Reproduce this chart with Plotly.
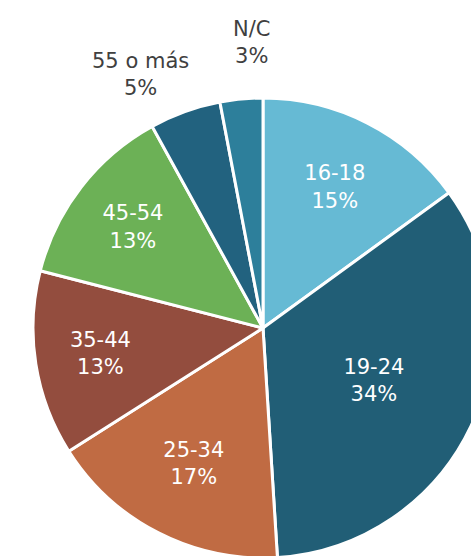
import plotly.graph_objects as go

categories = ["16-18", "19-24", "25-34", "35-44", "45-54", "55 o más", "N/C"]
values = [15, 34, 17, 13, 13, 5, 3]
colors = ["#66bad4", "#215e76", "#c06b43", "#934d3e", "#6cb156", "#22627f", "#2d7f9b"]
outside = ["55 o más", "N/C"]

W, H = 500, 560
cx, cy, r = 263, 328, 230

texts = [("" if c in outside else f"{c}<br>{v}%") for c, v in zip(categories, values)]

fig = go.Figure(go.Pie(
    labels=categories,
    values=values,
    sort=False,
    direction="clockwise",
    rotation=0,
    marker=dict(colors=colors, line=dict(color="white", width=3)),
    text=texts,
    textinfo="text",
    textposition="inside",
    insidetextorientation="horizontal",
    insidetextfont=dict(color="white", size=21, family="DejaVu Sans"),
    hoverinfo="label+percent",
    showlegend=False,
    domain=dict(x=[(cx - r) / W, (cx + r) / W], y=[1 - (cy + r) / H, 1 - (cy - r) / H]),
))

# outside labels, placed above the small slices
label_pos = {"55 o más": (140, 75), "N/C": (251, 43)}
for c, v in zip(categories, values):
    if c in outside:
        px, py = label_pos[c]
        fig.add_annotation(
            x=px / W, y=1 - py / H, xref="paper", yref="paper",
            xanchor="center", yanchor="middle",
            text=f"{c}<br>{v}%", showarrow=False,
            font=dict(color="#404040", size=21, family="DejaVu Sans"),
            align="center",
        )

fig.update_layout(
    width=W, height=H,
    margin=dict(l=0, r=0, t=0, b=0),
    paper_bgcolor="white",
    plot_bgcolor="white",
)

fig.write_html(
    "out.html",
    config={"displayModeBar": False},
    post_script="document.body.style.margin='0';document.body.style.overflow='hidden';document.documentElement.style.overflow='hidden';",
)
